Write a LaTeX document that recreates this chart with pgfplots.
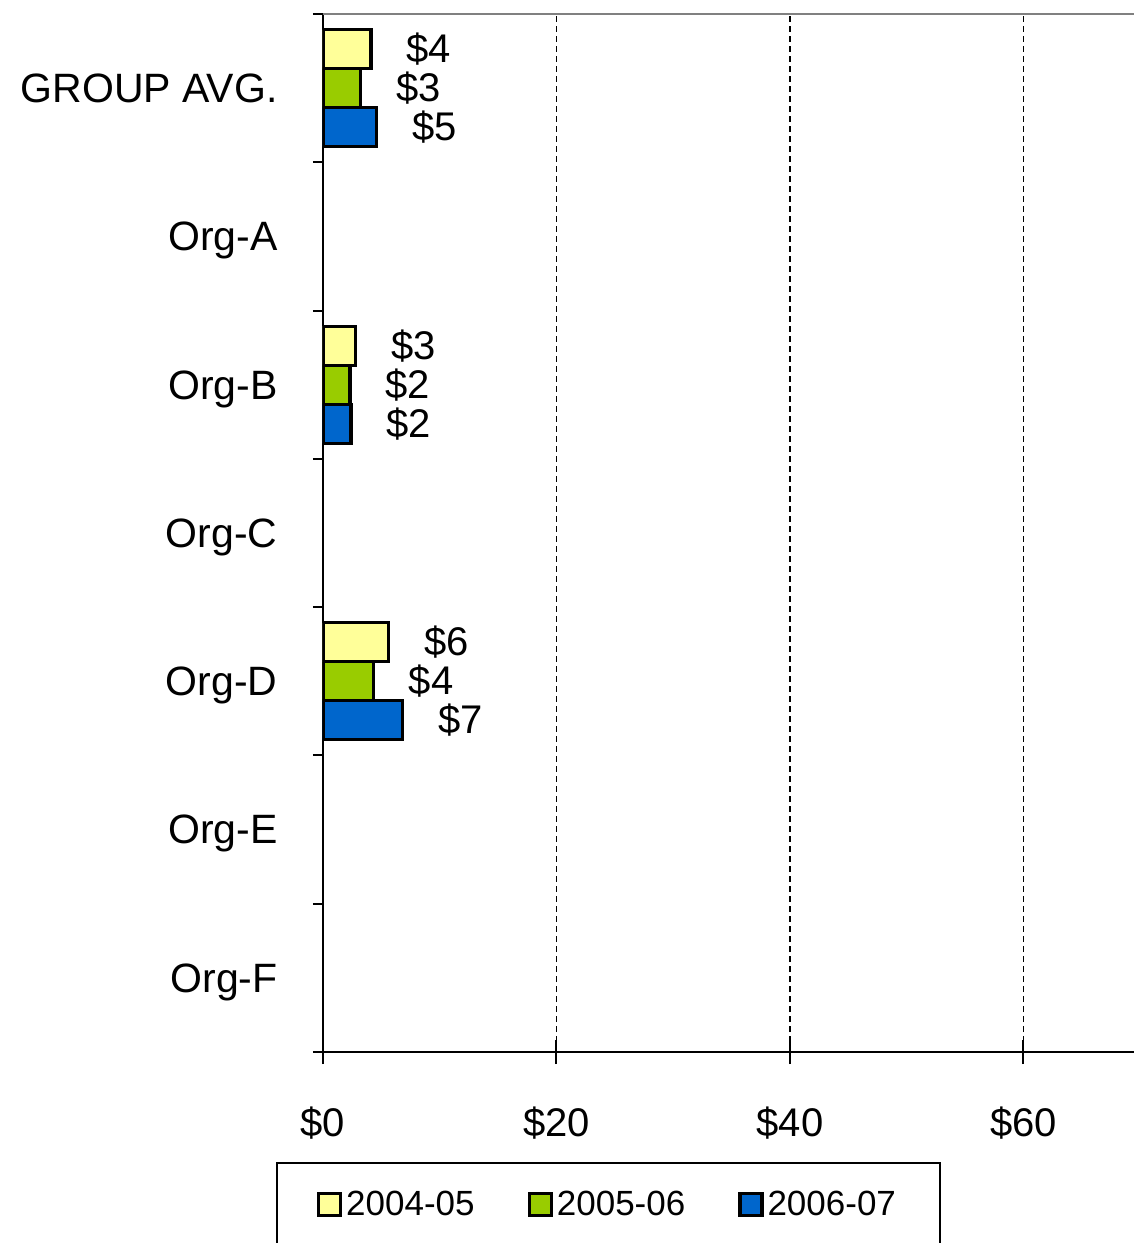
\documentclass[border=0pt]{standalone}
\usepackage{fontspec}
\setmainfont{Liberation Sans}
\usepackage{pgfplots}
\pgfplotsset{compat=1.18}
\definecolor{cyel}{HTML}{FFFF99}
\definecolor{cgrn}{HTML}{99CC00}
\definecolor{cblu}{HTML}{0066CC}
\begin{document}
\begin{tikzpicture}
\path[use as bounding box, clip] (0,0) rectangle (567pt,621.5pt);
\begin{axis}[
 at={(161.5pt,95.5pt)}, anchor=south west,
 scale only axis, width=467pt, height=519pt,
 xmin=0, xmax=80, ymin=-0.5, ymax=6.5,
 axis x line*=bottom, axis y line*=left,
 axis line style={line width=1.4pt, -},
 xbar, bar width=19.5pt,
 major tick length=5pt,
 xtick=\empty,
 ytick={-0.5,0.5,...,6.5}, yticklabels={}, ytick align=outside,
 tick style={line width=1pt, black},
 extra y ticks={0,1,2,3,4,5,6},
 extra y tick labels={Org-F,Org-E,Org-D,Org-C,Org-B,Org-A,GROUP AVG.},
 extra y tick style={major tick length=0pt, tick label style={anchor=east, inner sep=0pt, text depth=0pt, xshift=-22.5pt, font=\fontsize{20.5}{24}\selectfont}},
 extra x ticks={0,20,40,60,80},
 extra x tick labels={\$0,\$20,\$40,\$60,{}},
 extra x tick style={major tick length=12pt, tick align=center, grid=major, tick label style={anchor=center, inner sep=0pt, yshift=-29.5pt}},
 major grid style={black, line width=0.8pt, dash pattern=on 3pt off 2pt},
 ticklabel style={font=\fontsize{20}{24}\selectfont},
 point meta=x,
 nodes near coords={\$\pgfmathprintnumber[fixed,precision=0,assume math mode=true]{\pgfplotspointmeta}},
 nodes near coords style={anchor=west, inner sep=0pt, xshift=17pt, font=\fontsize{20}{24}\selectfont, black},
 legend columns=3,
 legend style={at={(-0.0503,-0.106)}, anchor=north west, draw=black, line width=1pt,
   inner xsep=20pt, inner ysep=12pt, font=\fontsize{17.5}{21}\selectfont,
   /tikz/every even column/.append style={column sep=24.5pt}},
 legend image code/.code={\draw[#1, line width=1.6pt] (0pt,-5.5pt) rectangle (11pt,5.5pt);},
]
\addplot[fill=cyel, draw=black, line width=1.7pt, bar shift=19.5pt] coordinates {(4.1,6) (2.8,4) (5.6,2)};
\addplot[fill=cgrn, draw=black, line width=1.7pt, bar shift=0pt] coordinates {(3.2,6) (2.3,4) (4.3,2)};
\addplot[fill=cblu, draw=black, line width=1.7pt, bar shift=-19.5pt] coordinates {(4.6,6) (2.4,4) (6.8,2)};
\legend{2004-05,2005-06,2006-07}
\draw[black!50, line width=1.4pt] (rel axis cs:0,1) -- (rel axis cs:1,1);
\end{axis}
\end{tikzpicture}
\end{document}
